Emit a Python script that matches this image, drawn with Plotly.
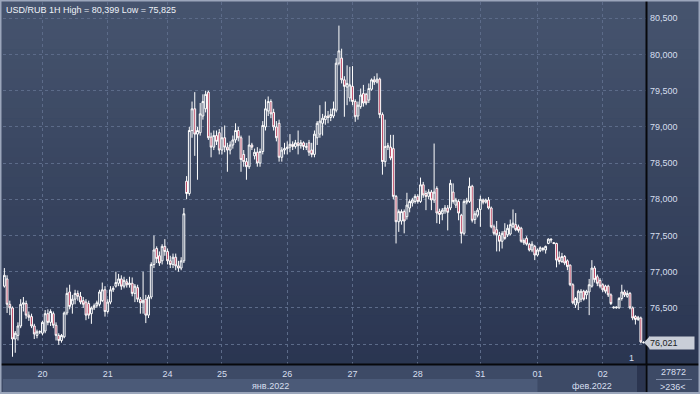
import plotly.graph_objects as go

# ---------------- data (USD/RUB, 1H candles, 19 Jan - 02 Feb 2022) ----------------
day_labels = ["19", "20", "21", "24", "25", "26", "27", "28", "31", "01", "02"]
day_counts = [14, 24, 22, 20, 24, 24, 24, 23, 21, 24, 16]
month_labels = ["янв.2022", "фев.2022"]
month_first_day = ["19", "01"]

open_ = [
    76.80, 76.90, 76.55, 76.50, 76.07, 76.12, 76.25, 76.55, 76.56, 76.40, 76.38, 76.25, 76.12, 76.17,
    76.15, 76.18, 76.42, 76.30, 76.42, 76.26, 76.12, 76.05, 76.10, 76.43, 76.72, 76.55, 76.62, 76.70, 76.66, 76.60, 76.58, 76.56, 76.42, 76.50, 76.53, 76.55, 76.60, 76.75,
    76.45, 76.58, 76.75, 76.80, 76.84, 76.90, 76.80, 76.86, 76.82, 76.84, 76.70, 76.78, 76.62, 76.57, 76.62, 76.40, 76.65, 77.10, 77.32, 77.22, 77.15, 77.35,
    77.28, 77.15, 77.10, 77.20, 77.08, 77.05, 77.15, 78.25, 78.08, 78.95, 79.25, 78.90, 78.92, 79.15, 79.25, 79.48, 78.86, 78.72, 78.88, 78.92,
    78.68, 78.85, 78.72, 78.68, 78.75, 78.82, 78.95, 78.85, 78.62, 78.52, 78.45, 78.75, 78.60, 78.65, 78.50, 78.66, 79.00, 79.22, 79.35, 79.20, 79.00, 79.05, 78.58, 78.68,
    78.70, 78.72, 78.76, 78.73, 78.78, 78.74, 78.78, 78.73, 78.78, 78.68, 78.62, 78.85, 78.90, 79.05, 79.10, 79.15, 79.13, 79.15, 79.23, 79.88, 79.95, 79.65, 79.55, 79.40,
    79.56, 79.35, 79.15, 79.28, 79.46, 79.45, 79.37, 79.52, 79.65, 79.62, 79.66, 79.17, 78.52, 78.72, 78.72, 78.70, 78.04, 77.69, 77.70, 77.83, 77.76, 77.88, 77.95, 77.97,
    78.04, 77.97, 78.20, 78.08, 78.04, 78.10, 77.99, 78.15, 77.83, 77.80, 77.84, 77.88, 77.88, 78.10, 77.92, 77.97, 77.78, 77.53, 77.96, 77.97, 78.18, 77.72, 77.78,
    77.86, 77.99, 77.96, 77.99, 77.88, 77.62, 77.58, 77.50, 77.42, 77.56, 77.51, 77.52, 77.62, 77.65, 77.62, 77.60, 77.43, 77.46, 77.38, 77.30, 77.35,
    77.23, 77.29, 77.32, 77.30, 77.39, 77.45, 77.40, 77.39, 77.20, 77.14, 77.21, 77.15, 77.09, 76.82, 76.54, 76.57, 76.62, 76.73, 76.68, 76.72, 76.80, 77.05, 76.93, 76.88,
    76.82, 76.80, 76.80, 76.68, 76.50, 76.50, 76.50, 76.63, 76.72, 76.66, 76.70, 76.50, 76.38, 76.34, 76.36, 76.02,
]
high = [
    77.05, 76.95, 76.60, 76.52, 76.18, 76.30, 76.62, 76.65, 76.60, 76.45, 76.42, 76.28, 76.20, 76.19,
    76.32, 76.47, 76.48, 76.48, 76.45, 76.30, 76.15, 76.14, 76.45, 76.78, 76.82, 76.68, 76.75, 76.74, 76.72, 76.65, 76.62, 76.60, 76.52, 76.56, 76.60, 76.75, 76.85, 76.80,
    76.62, 76.80, 76.80, 77.00, 76.97, 76.95, 76.93, 76.90, 76.93, 76.92, 76.83, 76.82, 76.65, 77.00, 76.68, 76.68, 77.13, 77.50, 77.35, 77.28, 77.38, 77.45,
    77.32, 77.22, 77.25, 77.25, 77.15, 77.20, 77.88, 78.32, 79.00, 79.35, 79.48, 79.00, 79.33, 79.45, 79.50, 79.50, 78.92, 78.95, 78.95, 78.97,
    79.00, 79.02, 78.78, 78.80, 78.88, 79.05, 79.00, 78.88, 78.68, 78.57, 78.88, 78.78, 78.70, 78.72, 78.70, 79.08, 79.38, 79.42, 79.38, 79.25, 79.08, 79.10, 78.72, 78.78,
    78.80, 78.90, 78.80, 78.82, 78.95, 78.82, 78.80, 78.78, 78.82, 78.78, 78.95, 79.08, 79.30, 79.18, 79.35, 79.22, 79.25, 79.35, 79.95, 80.399, 80.08, 79.70, 79.85, 79.83,
    79.84, 79.38, 79.35, 79.53, 79.58, 79.47, 79.60, 79.67, 79.70, 79.74, 79.68, 79.20, 79.10, 78.78, 78.89, 78.89, 78.06, 77.86, 77.86, 77.86, 78.09, 78.00, 78.02, 78.07,
    78.07, 78.30, 78.24, 78.12, 78.14, 78.13, 78.77, 78.18, 77.87, 77.88, 77.92, 77.92, 78.27, 78.22, 78.02, 78.00, 77.80, 78.00, 78.02, 78.30, 78.20, 77.84, 77.88,
    78.05, 78.01, 78.01, 78.03, 77.90, 77.65, 77.70, 77.55, 77.56, 77.67, 77.65, 77.72, 77.86, 77.81, 77.65, 77.62, 77.46, 77.49, 77.40, 77.42, 77.37,
    77.32, 77.35, 77.34, 77.36, 77.46, 77.46, 77.41, 77.40, 77.28, 77.26, 77.23, 77.17, 77.10, 76.84, 76.65, 76.75, 76.76, 76.75, 76.75, 76.90, 77.16, 77.08, 76.96, 76.91,
    76.84, 76.82, 76.82, 76.70, 76.52, 76.52, 76.65, 76.82, 76.75, 76.74, 76.72, 76.52, 76.40, 76.39, 76.38, 76.04,
]
low = [
    76.78, 76.43, 76.40, 75.825, 75.88, 76.05, 76.22, 76.45, 76.35, 76.32, 76.22, 76.07, 76.08, 76.14,
    76.12, 76.15, 76.26, 76.25, 76.22, 76.05, 75.99, 76.02, 76.08, 76.40, 76.48, 76.42, 76.55, 76.60, 76.55, 76.50, 76.33, 76.35, 76.28, 76.47, 76.50, 76.52, 76.58, 76.38,
    76.42, 76.55, 76.72, 76.78, 76.80, 76.75, 76.77, 76.78, 76.78, 76.66, 76.58, 76.58, 76.42, 76.42, 76.29, 76.36, 76.62, 77.05, 77.12, 77.08, 77.10, 77.22,
    77.10, 77.05, 77.05, 77.02, 77.00, 77.02, 77.12, 78.00, 78.05, 78.85, 78.60, 78.27, 78.88, 79.10, 79.20, 78.82, 78.58, 78.68, 78.75, 78.62,
    78.62, 78.65, 78.38, 78.62, 78.70, 78.78, 78.80, 78.38, 78.45, 78.27, 78.42, 78.68, 78.55, 78.45, 78.45, 78.62, 78.95, 79.15, 79.12, 78.95, 78.80, 78.52, 78.52, 78.62,
    78.62, 78.65, 78.68, 78.70, 78.62, 78.70, 78.68, 78.68, 78.60, 78.58, 78.58, 78.75, 78.85, 78.88, 79.03, 79.05, 79.08, 79.12, 79.20, 79.85, 79.60, 79.14, 79.30, 79.35,
    79.30, 79.07, 79.10, 79.25, 79.28, 79.30, 79.33, 79.50, 79.58, 79.60, 79.12, 78.34, 78.45, 78.68, 78.54, 78.00, 77.39, 77.55, 77.65, 77.53, 77.72, 77.82, 77.90, 77.94,
    77.94, 77.95, 78.02, 77.85, 78.00, 77.85, 77.95, 77.67, 77.66, 77.71, 77.80, 77.57, 77.85, 77.94, 77.88, 77.71, 77.39, 77.50, 77.93, 77.95, 77.68, 77.66, 77.75,
    77.62, 77.93, 77.94, 77.86, 77.60, 77.50, 77.28, 77.28, 77.32, 77.44, 77.48, 77.50, 77.60, 77.56, 77.54, 77.40, 77.37, 77.36, 77.28, 77.27, 77.16,
    77.21, 77.27, 77.28, 77.25, 77.38, 77.40, 77.38, 77.06, 77.10, 77.12, 77.09, 77.02, 76.80, 76.55, 76.50, 76.47, 76.58, 76.60, 76.62, 76.40, 76.78, 76.85, 76.80, 76.77,
    76.72, 76.70, 76.65, 76.54, 76.49, 76.49, 76.49, 76.60, 76.65, 76.64, 76.48, 76.33, 76.27, 76.32, 76.01, 76.01,
]
close = [
    76.95, 76.55, 76.50, 76.07, 76.15, 76.25, 76.55, 76.57, 76.40, 76.37, 76.25, 76.14, 76.17, 76.17,
    76.30, 76.42, 76.30, 76.45, 76.26, 76.12, 76.05, 76.12, 76.43, 76.70, 76.52, 76.62, 76.70, 76.66, 76.58, 76.55, 76.40, 76.40, 76.50, 76.53, 76.57, 76.72, 76.75, 76.45,
    76.58, 76.75, 76.77, 76.85, 76.90, 76.80, 76.88, 76.82, 76.84, 76.70, 76.80, 76.62, 76.57, 76.60, 76.40, 76.65, 77.10, 77.30, 77.18, 77.12, 77.35, 77.28,
    77.15, 77.10, 77.20, 77.08, 77.05, 77.15, 77.80, 78.08, 78.95, 79.25, 78.90, 78.95, 79.18, 79.35, 79.45, 78.85, 78.72, 78.88, 78.80, 78.68,
    78.85, 78.72, 78.68, 78.75, 78.82, 78.95, 78.85, 78.55, 78.52, 78.45, 78.75, 78.72, 78.65, 78.50, 78.66, 79.02, 79.25, 79.35, 79.18, 79.00, 78.85, 78.58, 78.68, 78.70,
    78.72, 78.76, 78.73, 78.78, 78.74, 78.78, 78.73, 78.72, 78.65, 78.62, 78.90, 79.05, 79.08, 79.12, 79.15, 79.13, 79.17, 79.25, 79.88, 80.05, 79.65, 79.56, 79.60, 79.58,
    79.35, 79.14, 79.30, 79.44, 79.33, 79.33, 79.53, 79.65, 79.62, 79.66, 79.17, 78.52, 78.73, 78.74, 78.57, 78.04, 77.69, 77.83, 77.83, 77.70, 77.92, 77.97, 77.99, 78.04,
    77.97, 78.20, 78.06, 78.04, 78.10, 77.99, 78.10, 77.81, 77.79, 77.85, 77.88, 77.82, 78.22, 77.97, 77.99, 77.81, 77.53, 77.97, 77.98, 78.18, 77.71, 77.80, 77.85,
    78.00, 77.96, 77.99, 77.88, 77.62, 77.53, 77.51, 77.42, 77.53, 77.46, 77.60, 77.65, 77.67, 77.58, 77.57, 77.42, 77.40, 77.38, 77.30, 77.38, 77.23,
    77.30, 77.33, 77.31, 77.35, 77.45, 77.44, 77.39, 77.16, 77.14, 77.21, 77.12, 77.07, 76.82, 76.57, 76.63, 76.73, 76.73, 76.62, 76.73, 76.82, 77.05, 76.89, 76.84, 76.80,
    76.75, 76.73, 76.68, 76.56, 76.51, 76.51, 76.63, 76.72, 76.68, 76.70, 76.50, 76.36, 76.34, 76.37, 76.03, 76.021,
]
price_ticks = [76.0, 76.5, 77.0, 77.5, 78.0, 78.5, 79.0, 79.5, 80.0, 80.5]
bar_count_label = "27872"
visible_bars_label = ">236<"

# ---------------- derived ----------------
n = len(close)
x = list(range(n))
day_start = []
acc = 0
for c in day_counts:
    day_start.append(acc)
    acc += c
tick_idx = day_start[1:]
tick_txt = day_labels[1:]


def ru(v, d=3):
    return f"{v:.{d}f}".replace(".", ",")


# ---------------- geometry ----------------
W, H = 700, 394
ML, MR, MT, MB = 3, 54, 2, 30
PW, PH = W - ML - MR, H - MT - MB
XR = [-0.5, -0.5 + PW / 2.72]
YR = [75.725, 80.725]
FONT = "Liberation Sans, Arial, sans-serif"
TXT = "#d6dfee"
FS = 9


def px(xp):
    return (xp - ML) / PW


def py(yp):
    return (MT + PH - yp) / PH


fig = go.Figure()
fig.add_trace(go.Candlestick(
    x=x, open=open_, high=high, low=low, close=close,
    increasing=dict(line=dict(color="#ffffff", width=1), fillcolor="#34425f"),
    decreasing=dict(line=dict(color="#ffffff", width=1), fillcolor="#b3294a"),
    whiskerwidth=0, hoverinfo="skip", showlegend=False,
))

shapes = []
# vertical gradient background (whole figure)
nb = 40
top_c = (70, 84, 110)
bot_c = (40, 51, 79)
for k in range(nb):
    t = k / (nb - 1)
    col = tuple(int(round(top_c[j] + (bot_c[j] - top_c[j]) * t)) for j in range(3))
    y0p = k * (H / nb)
    y1p = (k + 1) * (H / nb) + 0.6
    shapes.append(dict(type="rect", xref="paper", yref="paper", layer="below",
                       x0=px(0), x1=px(W), y0=py(y1p), y1=py(y0p),
                       fillcolor="rgb(%d,%d,%d)" % col, line=dict(width=0)))
# bottom time panel
shapes.append(dict(type="rect", xref="paper", yref="paper", layer="below",
                   x0=px(0), x1=px(W), y0=py(H), y1=py(MT + PH),
                   fillcolor="#3d4a66", line=dict(width=0)))
# january band (lighter lower row)
feb_start = day_start[day_labels.index(month_first_day[1])]
xfrac = lambda v: (v - XR[0]) / (XR[1] - XR[0])
shapes.append(dict(type="rect", xref="paper", yref="paper", layer="below",
                   x0=px(3), x1=xfrac(feb_start), y0=py(392), y1=py(379),
                   fillcolor="#4b5a78", line=dict(width=0)))
# scroll stub
shapes.append(dict(type="rect", xref="paper", yref="paper", layer="below",
                   x0=px(637), x1=px(645), y0=py(394), y1=py(365),
                   fillcolor="#2b3550", line=dict(width=0)))
# black separators
shapes.append(dict(type="line", xref="paper", yref="paper", layer="above",
                   x0=px(646.5), x1=px(646.5), y0=py(H), y1=py(0),
                   line=dict(color="#07080c", width=2)))
shapes.append(dict(type="line", xref="paper", yref="paper", layer="above",
                   x0=px(0), x1=px(W), y0=py(364.5), y1=py(364.5),
                   line=dict(color="#07080c", width=2)))
# corner divider
shapes.append(dict(type="line", xref="paper", yref="paper", layer="above",
                   x0=px(656), x1=px(692), y0=py(379.5), y1=py(379.5),
                   line=dict(color="#7d8aa6", width=1)))
# outer frame
shapes.append(dict(type="rect", xref="paper", yref="paper", layer="above",
                   x0=px(0.5), x1=px(W - 0.5), y0=py(H - 1), y1=py(0.5),
                   line=dict(color="#9ba6bb", width=2), fillcolor="rgba(0,0,0,0)"))
# last price marker arrow
last = close[-1]
dy = 6.5 / (PH / (YR[1] - YR[0]))
shapes.append(dict(type="path", xref="paper", yref="y", layer="above",
                   path="M %f,%f L %f,%f L %f,%f Z" % (px(650), last + dy, px(644), last, px(650), last - dy),
                   fillcolor="#c9ced8", line=dict(color="#c9ced8", width=0)))

annotations = [
    dict(xref="paper", yref="paper", x=px(4), y=py(10), xanchor="left", yanchor="middle",
         text="USD/RUB 1H High = %s Low = %s" % (ru(max(high)), ru(min(low))),
         showarrow=False, font=dict(family=FONT, size=FS, color="#eef2f8")),
    dict(xref="paper", yref="y", x=px(649), y=last, xanchor="left", yanchor="middle",
         text=ru(last), showarrow=False, bgcolor="#c9ced8", width=44, align="left",
         height=12, borderpad=0, font=dict(family=FONT, size=FS, color="#1a1d24")),
    dict(xref="paper", yref="paper", x=px(673), y=py(372), xanchor="center", yanchor="middle",
         text=bar_count_label, showarrow=False, font=dict(family=FONT, size=FS, color=TXT)),
    dict(xref="paper", yref="paper", x=px(673), y=py(386.5), xanchor="center", yanchor="middle",
         text=visible_bars_label, showarrow=False, font=dict(family=FONT, size=FS, color=TXT)),
    dict(xref="paper", yref="paper", x=px(631), y=py(358), xanchor="center", yanchor="middle",
         text="1", showarrow=False, font=dict(family=FONT, size=FS, color=TXT)),
]
jan_center = (XR[0] + feb_start) / 2
feb_center = (feb_start + XR[1]) / 2
for lbl, cx in zip(month_labels, [jan_center, feb_center]):
    annotations.append(dict(xref="x", yref="paper", x=cx, y=py(385.5), xanchor="center",
                            yanchor="middle", text=lbl, showarrow=False,
                            font=dict(family=FONT, size=FS, color=TXT)))

fig.update_layout(
    width=W, height=H,
    margin=dict(l=ML, r=MR, t=MT, b=MB, pad=0),
    paper_bgcolor="#34425f", plot_bgcolor="rgba(0,0,0,0)",
    font=dict(family=FONT, size=FS, color=TXT),
    boxgap=0.05,
    shapes=shapes, annotations=annotations, showlegend=False,
    xaxis=dict(range=XR, tickmode="array", tickvals=tick_idx, ticktext=tick_txt,
               showgrid=True, gridcolor="#5c6b89", griddash="3px,3px", gridwidth=1,
               zeroline=False, showline=False, ticks="", rangeslider=dict(visible=False),
               tickfont=dict(family=FONT, size=FS, color=TXT), ticklabelstandoff=3,
               fixedrange=True),
    yaxis=dict(range=YR, side="right", tickmode="array", tickvals=price_ticks,
               ticktext=[ru(v) for v in price_ticks],
               showgrid=True, gridcolor="#5c6b89", griddash="3px,3px", gridwidth=1,
               zeroline=False, showline=False, ticks="",
               tickfont=dict(family=FONT, size=FS, color=TXT), ticklabelstandoff=3,
               fixedrange=True),
)

fig.write_html("out.html", config={"displayModeBar": False},
               post_script="document.body.style.margin='0';document.body.style.padding='0';")
